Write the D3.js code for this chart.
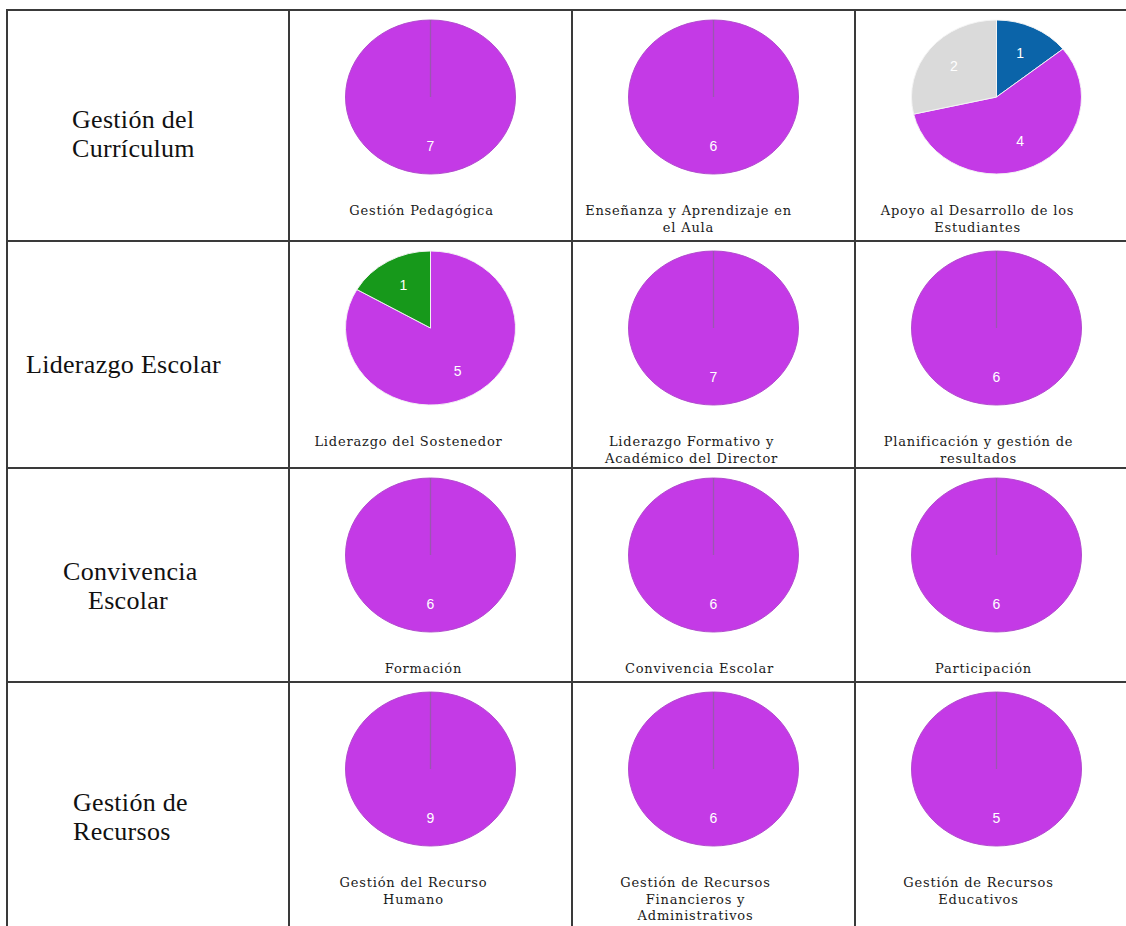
<!DOCTYPE html>
<html>
<head>
<meta charset="utf-8">
<script src="https://cdn.jsdelivr.net/npm/d3@7/dist/d3.min.js"></script>
<style>
  html, body { margin: 0; padding: 0; background: #fff; overflow: hidden; }
  svg { display: block; }
</style>
</head>
<body>
<script>
// ---------- DATA ----------
const rowLabels = [
  ["Gestión del", "Currículum"],
  ["Liderazgo Escolar"],
  ["Convivencia", "Escolar"],
  ["Gestión de", "Recursos"]
];
const captions = [
  ["Gestión Pedagógica"], ["Enseñanza y Aprendizaje en", "el Aula"], ["Apoyo al Desarrollo de los", "Estudiantes"],
  ["Liderazgo del Sostenedor"], ["Liderazgo Formativo y", "Académico del Director"], ["Planificación y gestión de", "resultados"],
  ["Formación"], ["Convivencia Escolar"], ["Participación"],
  ["Gestión del Recurso", "Humano"], ["Gestión de Recursos", "Financieros y", "Administrativos"], ["Gestión de Recursos", "Educativos"]
];
const sliceKeys = ["azul", "morado", "gris", "verde"];
const sliceColors = ["#0b64a9", "#c43ae6", "#dadada", "#17991b"];
// values per pie in the order of sliceKeys
const pieValues = [
  [0, 7, 0, 0], [0, 6, 0, 0], [1, 4, 2, 0],
  [0, 5, 0, 1], [0, 7, 0, 0], [0, 6, 0, 0],
  [0, 6, 0, 0], [0, 6, 0, 0], [0, 6, 0, 0],
  [0, 9, 0, 0], [0, 6, 0, 0], [0, 5, 0, 0]
];

// ---------- LAYOUT ----------
const W = 1126, H = 926;
const colEdges = [7, 289, 572, 855, 1138];
const rowEdges = [10, 241, 468, 682, 935];
const labelLayout = [
  { x: [72, 72], y: 128 },
  { x: [26], y: 373 },
  { x: [63, 88], y: 580 },
  { x: [73, 73], y: 811 }
];
const captionDx = [-9, -25, -19, -22, -22, -18, -7, -14, -13, -17, -18, -18];
const rx = 85, ry = 77;

const svg = d3.select("body").append("svg").attr("width", W).attr("height", H);

// grid
const gridG = svg.append("g");
colEdges.forEach(x => gridG.append("line")
  .attr("x1", x).attr("x2", x).attr("y1", rowEdges[0]).attr("y2", rowEdges[4])
  .attr("stroke", "#3a3a3a").attr("stroke-width", 2));
rowEdges.forEach(y => gridG.append("line")
  .attr("x1", colEdges[0] - 1).attr("x2", colEdges[4] + 1).attr("y1", y).attr("y2", y)
  .attr("stroke", "#3a3a3a").attr("stroke-width", 2));

// row labels
rowLabels.forEach((lines, r) => {
  const t = svg.append("text")
    .attr("font-family", "'Liberation Serif', 'Times New Roman', serif")
    .attr("font-size", 26).attr("fill", "#111")
    .attr("letter-spacing", 0.3);
  lines.forEach((ln, i) => t.append("tspan")
    .attr("x", labelLayout[r].x[i]).attr("y", labelLayout[r].y + i * 29).text(ln));
});

const pie = d3.pie().sort(null).value(d => d.value).startAngle(0).endAngle(2 * Math.PI);
const arc = d3.arc().innerRadius(0).outerRadius(rx);

pieValues.forEach((vals, idx) => {
  const r = Math.floor(idx / 3), c = idx % 3;
  const cx = (colEdges[c + 1] + colEdges[c + 2]) / 2;
  const top = rowEdges[r];
  const cy = top + 87;
  const data = vals.map((v, i) => ({ key: sliceKeys[i], color: sliceColors[i], value: v }))
                   .filter(d => d.value > 0);
  const arcs = pie(data);
  const g = svg.append("g").attr("transform", `translate(${cx},${cy}) scale(1,${ry / rx})`);
  g.selectAll("path.slice").data(arcs).enter().append("path")
    .attr("class", "slice")
    .attr("d", arc)
    .attr("fill", d => d.data.color)
    .attr("stroke", arcs.length > 1 ? "#f4f4f4" : "#b048cc")
    .attr("stroke-width", 1);
  if (arcs.length === 1) {
    g.append("line").attr("x1", 0).attr("y1", 0).attr("x2", 0).attr("y2", -rx)
      .attr("stroke", "#9a56b0").attr("stroke-width", 1.3);
  }
  // labels
  arcs.forEach(a => {
    const mid = arcs.length === 1 ? Math.PI : (a.startAngle + a.endAngle) / 2;
    const f = 0.64;
    const lx = cx + Math.sin(mid) * rx * f;
    const ly = cy - Math.cos(mid) * ry * f;
    svg.append("text")
      .attr("x", lx).attr("y", ly).attr("dy", "0.35em")
      .attr("text-anchor", "middle")
      .attr("font-family", "'Liberation Sans', Arial, sans-serif")
      .attr("font-size", 14)
      .attr("fill", "#ffffff")
      .text(a.data.value);
  });
  // caption
  const capX = cx + captionDx[idx];
  const t = svg.append("text")
    .attr("font-family", "'DejaVu Serif', serif")
    .attr("font-size", 13).attr("fill", "#1a1a1a")
    .attr("letter-spacing", 0.8)
    .attr("text-anchor", "middle");
  captions[idx].forEach((ln, i) => t.append("tspan")
    .attr("x", capX).attr("y", top + 205 + i * 16.5).text(ln));
});
</script>
</body>
</html>
